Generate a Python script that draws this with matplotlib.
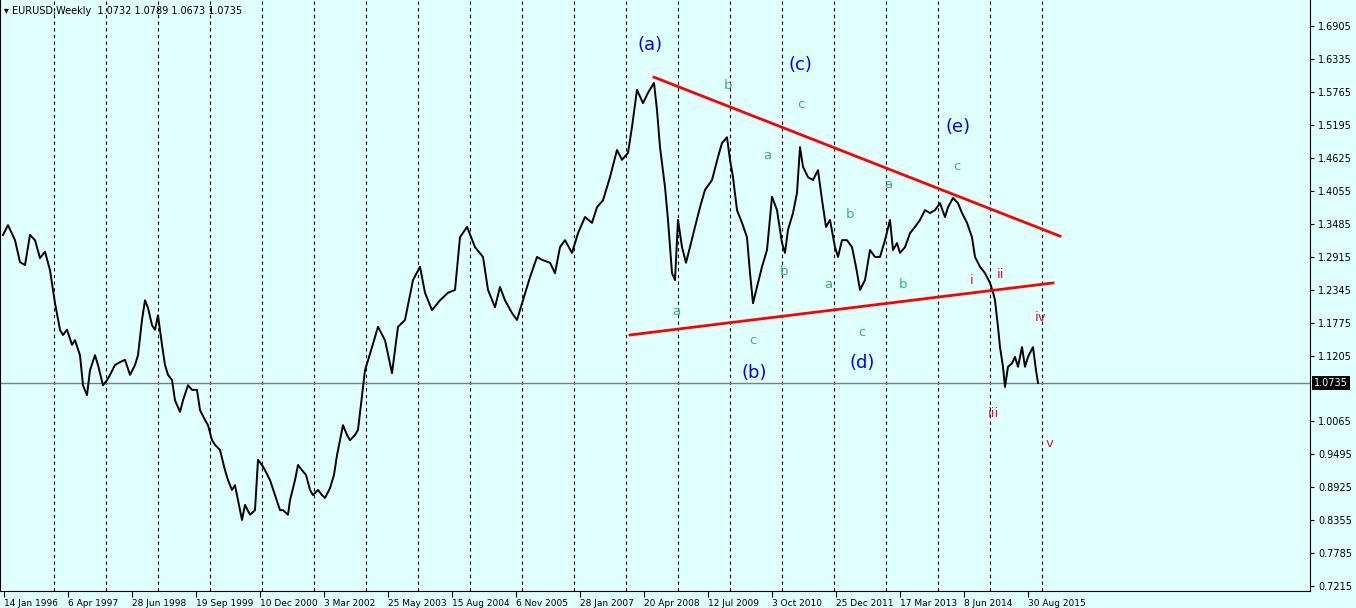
import datetime as dt
import numpy as np
import matplotlib.pyplot as plt

# weeks since 14 Jan 1996 and close prices
weeks = [-1, 4, 11, 16, 21, 26, 31, 36, 41, 46, 51, 56, 59, 63, 68, 71, 76, 79, 83, 86, 91, 94, 99, 103,
         106, 111, 116, 121, 126, 131, 134, 138, 141, 144, 148, 151, 154, 158, 161, 164, 168, 171, 176, 179,
         184, 188, 193, 196, 201, 204, 208, 211, 216, 221, 224, 228, 231, 234, 238, 241, 246, 251, 254, 258,
         261, 266, 271, 276, 279, 284, 286, 291, 294, 298, 302, 306, 309, 314, 318, 321, 326, 330, 333, 336,
         339, 343, 346, 351, 354, 361, 368, 374, 381, 388, 394, 401, 409, 416, 421, 428, 436, 444, 451, 456,
         463, 471, 479, 484, 491, 496, 501, 508, 513, 519, 526, 533, 538, 546, 551, 556, 561, 568, 574, 581,
         588, 593, 599, 606, 613, 618, 624, 628, 633, 639, 644, 650, 653, 656, 661, 664, 668, 671, 674, 678,
         682, 686, 691, 696, 701, 708, 714, 718, 723, 726, 729, 733, 738, 743, 746, 749, 753, 758, 763, 768,
         773, 778, 781, 784, 789, 793, 796, 799, 804, 809, 814, 818, 822, 826, 831, 834, 838, 843, 848, 852,
         856, 861, 866, 871, 876, 881, 886, 889, 893, 896, 901, 906, 911, 916, 921, 926, 931, 936, 941, 944,
         949, 954, 958, 963, 968, 971, 976, 981, 986, 989, 991, 994, 996, 999, 1001, 1004, 1008, 1011, 1014,
         1018, 1021, 1024, 1026, 1029, 1032, 1034]
close = [1.329, 1.346, 1.320, 1.282, 1.277, 1.329, 1.320, 1.289, 1.300, 1.268, 1.211, 1.165, 1.156, 1.165,
         1.139, 1.147, 1.121, 1.069, 1.052, 1.095, 1.121, 1.104, 1.069, 1.078, 1.087, 1.104, 1.109, 1.113,
         1.087, 1.104, 1.121, 1.182, 1.216, 1.203, 1.173, 1.165, 1.190, 1.139, 1.104, 1.087, 1.078, 1.043,
         1.023, 1.043, 1.069, 1.061, 1.061, 1.026, 1.009, 1.000, 0.974, 0.966, 0.957, 0.922, 0.905, 0.888,
         0.896, 0.870, 0.836, 0.862, 0.845, 0.853, 0.940, 0.931, 0.922, 0.905, 0.879, 0.853, 0.853, 0.845,
         0.870, 0.905, 0.931, 0.922, 0.914, 0.888, 0.879, 0.888, 0.879, 0.874, 0.891, 0.914, 0.948, 0.974,
         1.000, 0.983, 0.974, 0.983, 0.992, 1.095, 1.135, 1.170, 1.147, 1.090, 1.170, 1.182, 1.251, 1.274,
         1.229, 1.199, 1.216, 1.229, 1.234, 1.325, 1.343, 1.308, 1.291, 1.234, 1.204, 1.239, 1.216, 1.194,
         1.182, 1.216, 1.256, 1.291, 1.286, 1.281, 1.263, 1.308, 1.320, 1.298, 1.332, 1.360, 1.350, 1.377,
         1.389, 1.429, 1.476, 1.459, 1.471, 1.516, 1.580, 1.557, 1.575, 1.592, 1.545, 1.481, 1.412, 1.355,
         1.263, 1.251, 1.355, 1.308, 1.281, 1.308, 1.343, 1.377, 1.407, 1.424, 1.464, 1.488, 1.498, 1.459,
         1.429, 1.372, 1.350, 1.325, 1.263, 1.211, 1.239, 1.274, 1.303, 1.395, 1.372, 1.315, 1.298, 1.338,
         1.367, 1.402, 1.481, 1.447, 1.429, 1.424, 1.441, 1.390, 1.343, 1.355, 1.308, 1.291, 1.320, 1.320,
         1.308, 1.274, 1.234, 1.251, 1.303, 1.291, 1.291, 1.320, 1.355, 1.303, 1.315, 1.298, 1.308, 1.332,
         1.343, 1.355, 1.372, 1.367, 1.372, 1.384, 1.360, 1.377, 1.393, 1.384, 1.367, 1.350, 1.325, 1.291,
         1.274, 1.263, 1.246, 1.230, 1.216, 1.170, 1.135, 1.101, 1.066, 1.101, 1.107, 1.118, 1.101, 1.135,
         1.101, 1.118, 1.125, 1.135, 1.095, 1.073]

last_price = 1.0735
upper_line = ([650, 1056], [1.602, 1.327])
lower_line = ([626, 1049], [1.156, 1.246])

blue_labels = [("(a)", 646, 1.658), ("(c)", 796, 1.623), ("(e)", 954, 1.516),
               ("(b)", 750, 1.090), ("(d)", 858, 1.107)]
green_labels = [("b", 724, 1.588), ("c", 797, 1.554), ("a", 763, 1.466), ("c", 953, 1.448),
                ("a", 884, 1.417), ("b", 846, 1.365), ("b", 780, 1.265), ("a", 824, 1.244),
                ("b", 899, 1.244), ("a", 672, 1.197), ("c", 749, 1.147), ("c", 858, 1.161)]
red_labels = [("i", 968, 1.251), ("ii", 997, 1.260), ("iv", 1037, 1.187),
              ("iii", 989, 1.021), ("v", 1046, 0.969)]

yticks = [1.6905, 1.6335, 1.5765, 1.5195, 1.4625, 1.4055, 1.3485, 1.2915, 1.2345, 1.1775,
          1.1205, 1.0065, 0.9495, 0.8925, 0.8355, 0.7785, 0.7215]
start = dt.date(1996, 1, 14)
xtick_weeks = list(range(0, 1025, 64))
grid_weeks = list(range(50, 1045, 52))

bg = "#E0FFFF"
fig = plt.figure(figsize=(13.56, 6.08), dpi=100, facecolor=bg)
ax = fig.add_axes([0, 17 / 608, 1310 / 1356, 1 - 17 / 608], facecolor=bg)
ax.set_xlim(-4, 1306)
ax.set_ylim(0.7131, 1.7355)

for g in grid_weeks:
    ax.axvline(g, color="black", lw=0.8, ls=(0, (3, 3)), zorder=0)
ax.axhline(last_price, color="#708090", lw=1, zorder=1)

ax.plot(weeks, close, color="black", lw=1.4, zorder=3)
ax.plot(*upper_line, color="red", lw=2, zorder=4)
ax.plot(*lower_line, color="red", lw=2, zorder=4)

for t, x, y in blue_labels:
    ax.text(x, y, t, color="#0000FF", fontsize=13, ha="center", va="center")
for t, x, y in green_labels:
    ax.text(x, y, t, color="#3CB371", fontsize=9.5, ha="center", va="center")
for t, x, y in red_labels:
    ax.text(x, y, t, color="#DC143C", fontsize=9.5, ha="center", va="center")

ax.yaxis.tick_right()
ax.set_yticks(yticks)
ax.set_yticklabels([f"{v:.4f}" for v in yticks], fontsize=7)
ax.tick_params(axis="y", length=3, pad=3)
ax.set_xticks(xtick_weeks)
ax.set_xticklabels([(start + dt.timedelta(weeks=w)).strftime("%-d %b %Y") for w in xtick_weeks],
                   fontsize=6.5, ha="left")
ax.tick_params(axis="x", length=4, pad=2)
ax.text(1.003, last_price, f"{last_price:.4f}", transform=ax.get_yaxis_transform(), fontsize=7,
        color="white", va="center", ha="left", bbox=dict(facecolor="black", edgecolor="none", pad=1.5))
ax.text(0.003, 0.99, "\u25BE EURUSD,Weekly  1.0732 1.0789 1.0673 1.0735", transform=ax.transAxes,
        fontsize=7, va="top", ha="left", color="black")
ax.spines["top"].set_visible(False)

fig.savefig("out.png", dpi=100, facecolor=bg)
